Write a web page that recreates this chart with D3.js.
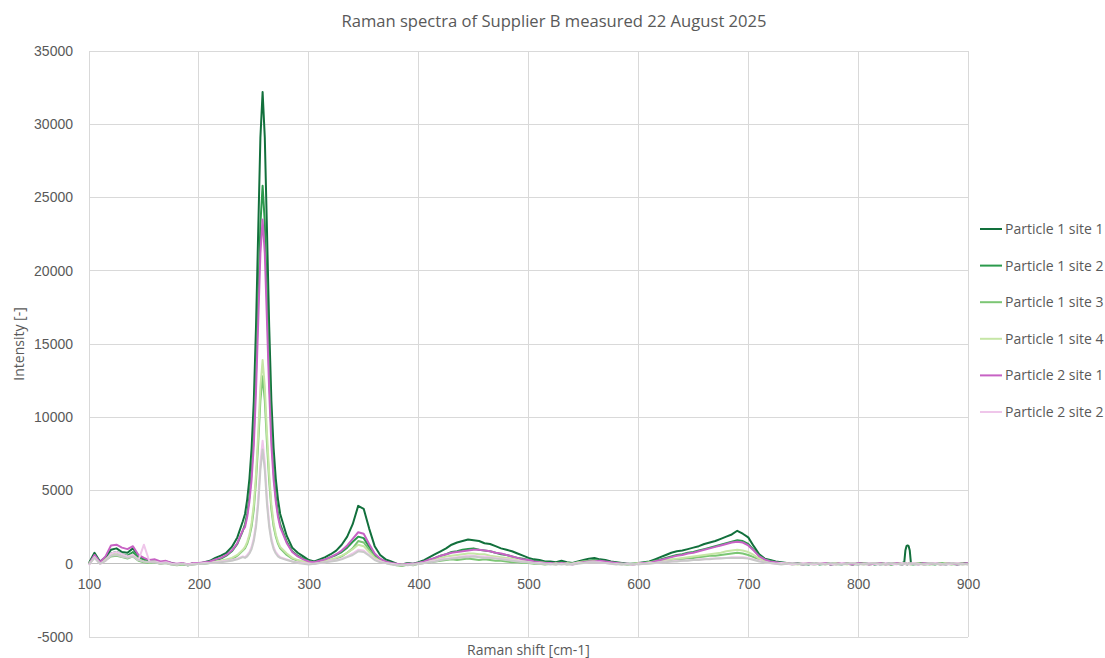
<!DOCTYPE html>
<html>
<head>
<meta charset="utf-8">
<script src="https://cdn.jsdelivr.net/npm/d3@7"></script>
<style>
  html, body { margin: 0; padding: 0; background: #ffffff; }
  svg { display: block; font-family: "Open Sans", "Noto Sans", sans-serif; }
</style>
</head>
<body>
<svg id="chart" width="1105" height="658"></svg>
<script>
// Raman shift sample positions [cm-1]
const shift = [
  100,105,110,115,120,125,130,135,140,145,150,155,160,165,170,175,180,185,190,195,200,205,210,215,220,225,230,235,240,
  242,244,246,248,250,252,254,256,258,260,262,264,266,268,270,272,274,
  280,285,290,295,300,305,310,315,320,325,330,335,340,345,350,355,360,365,370,375,380,385,390,395,400,
  405,410,415,420,425,430,435,440,445,450,455,460,465,470,475,480,485,490,495,500,505,510,515,520,525,530,535,540,545,550,555,560,565,570,575,580,585,590,595,600,
  605,610,615,620,625,630,635,640,645,650,655,660,665,670,675,680,685,690,695,700,705,710,715,720,725,730,735,740,745,750,755,760,765,770,775,780,785,790,795,800,805,810,815,820,825,830,835,840,
  842,843,844,845,846,847,848,
  850,855,860,865,870,875,880,885,890,895,900
];

const p1s1 = [
  50,750,150,450,950,1050,800,750,1050,550,350,200,250,100,150,50,-50,0,-100,50,0,100,200,400,550,750,1150,1800,2900,
  3400,4400,5800,7900,11100,16200,22700,29100,32200,29100,22700,16200,11100,7900,5800,4400,3400,
  1900,1100,750,500,250,150,300,450,650,900,1300,1850,2700,3950,3750,2400,1200,600,300,150,0,-50,50,0,100,
  250,450,650,850,1050,1300,1450,1550,1650,1600,1550,1400,1350,1200,1050,950,850,700,550,400,300,250,150,150,100,200,100,50,150,250,350,400,300,250,150,100,50,0,0,50,
  100,150,300,450,600,750,850,900,1000,1100,1200,1350,1450,1550,1700,1850,2000,2250,2050,1800,1200,650,350,250,150,100,50,0,50,0,-50,50,0,50,-50,0,50,0,-50,50,0,50,-50,0,50,-50,0,50,
  100,900,1200,1250,1200,900,100,
  0,50,-50,0,50,0,-50,50,0,50,0
];

const p1s2 = [
  0,600,100,300,700,800,650,550,800,400,250,150,200,50,100,0,-50,0,-50,0,50,50,150,250,350,550,850,1350,2250,
  2700,3450,4600,6300,8900,13000,18100,23200,25800,23300,18100,13000,8900,6300,4600,3450,2700,
  1500,850,550,350,200,100,200,300,450,600,800,1100,1500,1850,1750,1150,600,300,150,50,-50,-100,0,-50,50,
  150,250,400,550,650,800,850,950,1000,1050,950,900,850,750,650,600,500,400,350,250,200,150,100,50,50,100,0,0,50,150,200,250,200,150,100,50,0,-50,0,0,
  50,100,200,300,400,500,600,650,750,800,900,1000,1100,1200,1300,1400,1500,1600,1550,1350,950,550,300,200,100,50,0,50,0,-50,0,50,-50,0,50,0,-50,50,0,-50,50,0,50,-50,0,50,0,-50,
  0,50,0,-50,0,50,0,
  -50,0,50,0,-50,50,0,0,-50,0,50
];

const p1s3 = [
  0,500,50,250,500,550,450,350,500,200,100,50,100,0,50,-50,-100,-50,-100,-50,0,0,50,100,150,250,300,550,900,
  1050,1370,1860,2560,3710,5630,8190,11140,12800,11140,8190,5630,3710,2560,1860,1370,1050,
  600,350,200,100,50,0,100,150,250,350,500,750,1050,1550,1450,950,450,200,50,0,-100,-150,-50,-100,0,
  50,100,150,200,250,300,250,300,350,300,250,300,250,200,200,150,100,100,50,50,0,0,-50,0,-50,50,-50,0,50,100,150,150,100,100,50,0,-50,0,-50,0,
  0,50,100,150,200,250,300,300,350,400,450,500,550,550,600,650,700,750,700,600,450,250,150,100,50,0,50,-50,0,50,0,-50,0,50,0,-50,0,50,-50,0,50,-50,0,50,0,-50,50,0,
  50,0,-50,0,50,0,-50,
  0,50,0,-50,0,50,0,-50,0,50,-50
];

const p1s4 = [
  0,450,50,300,600,650,500,450,600,300,150,100,150,50,50,0,-50,0,-50,0,50,50,100,150,200,300,400,600,950,
  1150,1500,2000,2800,4050,6100,8900,12100,13900,12100,8900,6100,4050,2800,2000,1500,1150,
  700,400,250,150,100,50,100,200,300,400,550,750,1000,1300,1200,800,400,200,100,0,-50,-50,0,-50,50,
  100,200,300,400,500,550,600,650,700,700,650,650,550,500,450,400,350,250,200,150,100,100,50,0,50,0,50,0,100,150,150,200,150,100,50,50,0,-50,0,50,
  50,100,150,200,250,300,350,400,450,500,550,600,650,700,750,850,900,950,900,800,600,350,200,100,50,0,50,0,-50,0,50,0,50,-50,0,50,0,-50,50,0,-50,0,50,0,-50,0,50,0,
  0,50,0,50,0,-50,0,
  50,0,-50,50,0,-50,50,0,50,-50,0
];

const p2s1 = [
  -50,600,100,500,1250,1300,1100,1000,1200,600,400,250,300,150,200,50,0,50,-50,50,50,100,150,300,400,600,900,1400,2300,
  2500,3200,4250,5750,8100,11800,16500,21200,23500,21200,16500,11800,8100,5750,4250,3200,2500,
  1400,800,500,300,150,100,200,300,450,650,900,1250,1700,2150,2050,1350,700,350,150,50,0,-50,0,0,50,
  150,300,400,550,650,750,800,850,900,950,950,900,850,750,700,600,500,400,300,250,150,100,50,50,0,50,0,-50,50,100,150,150,200,150,100,50,0,0,-50,0,
  50,50,150,250,350,450,550,600,700,750,850,950,1050,1150,1250,1350,1450,1500,1450,1250,900,500,300,150,100,50,0,50,0,-50,50,0,0,50,-50,0,50,0,-50,50,0,-50,0,50,-50,0,50,-50,
  0,50,0,-50,0,50,0,
  0,-50,50,0,50,-50,0,50,-50,0,50
];

const p2s2 = [
  -100,450,0,200,700,800,650,500,600,250,1300,150,150,50,100,0,-50,0,-50,0,0,50,50,100,150,200,250,350,500,
  450,600,800,1150,1750,2750,4400,6900,8400,6900,4400,2750,1750,1150,800,600,450,
  300,150,100,50,0,0,50,100,200,250,350,500,700,950,900,600,300,150,50,0,-50,-100,-50,-50,0,
  50,150,200,300,350,400,450,500,550,550,500,500,450,400,350,300,250,200,150,100,50,50,0,0,-50,0,-50,0,50,50,100,100,100,50,0,0,-50,0,-50,0,
  0,50,50,100,150,150,200,200,250,250,300,300,350,350,400,400,450,450,450,400,300,200,100,50,0,50,0,-50,0,50,0,-50,50,0,0,-50,50,0,50,-50,0,50,0,-50,50,0,-50,50,
  0,-50,0,50,0,-50,0,
  50,0,-50,0,50,0,-50,0,50,0,-50
];

const p2s3 = [
  -50,400,0,200,550,600,500,400,500,250,150,100,100,0,50,-50,-50,0,-100,-50,0,0,50,50,100,150,200,300,450,
  400,500,700,1000,1550,2500,4050,6400,7800,6400,4050,2500,1550,1000,700,500,400,
  250,150,50,0,-50,0,50,100,150,200,300,450,600,850,800,550,250,100,50,-50,-100,-50,-100,-50,0,
  50,100,150,250,300,350,400,450,450,500,450,400,400,350,300,250,200,150,100,100,50,0,0,-50,0,-50,0,-50,0,50,100,100,50,50,0,-50,0,-50,0,-50,
  0,0,50,100,100,150,150,200,200,250,250,300,300,350,350,400,400,400,400,350,250,150,100,50,0,-50,0,50,0,-50,0,50,0,-50,50,0,-50,0,50,0,-50,0,50,0,-50,50,0,-50,
  0,50,0,-50,0,50,0,
  0,-50,0,50,0,-50,0,50,0,-50,0
];

const seriesNames = ["Particle 1 site 1", "Particle 1 site 2", "Particle 1 site 3", "Particle 1 site 4", "Particle 2 site 1", "Particle 2 site 2", "Particle 2 site 3"];
const seriesValues = [p1s1, p1s2, p1s3, p1s4, p2s1, p2s2, p2s3];
const seriesColors = ["#12703c", "#2b9a4c", "#7cc674", "#c6e6a6", "#c762c4", "#efc6ea", "#c9c9c9"];
const legendCount = 6;

const xTicks = [100, 200, 300, 400, 500, 600, 700, 800, 900];
const yTicks = [-5000, 0, 5000, 10000, 15000, 20000, 25000, 30000, 35000];

const titleText = "Raman spectra of Supplier B measured 22 August 2025";
const xTitle = "Raman shift [cm-1]";
const yTitle = "Intensity [-]";

const svg = d3.select("#chart");
const plot = { left: 89, right: 968, top: 51, bottom: 637 };
const textColor = "#595959";
const gridColor = "#d9d9d9";

// plain integer labels with an ASCII hyphen for negatives
const plainInt = d => String(Math.round(d));

const x = d3.scaleLinear().domain([100, 900]).range([plot.left, plot.right]);
const y = d3.scaleLinear().domain([-5000, 35000]).range([plot.bottom, plot.top]);

// gridlines
const grid = svg.append("g");
grid.selectAll("line.h").data(yTicks).join("line")
  .attr("x1", plot.left).attr("x2", plot.right)
  .attr("y1", d => y(d)).attr("y2", d => y(d))
  .attr("stroke", gridColor).attr("stroke-width", 1).attr("shape-rendering", "crispEdges");
grid.selectAll("line.v").data(xTicks).join("line")
  .attr("y1", plot.top).attr("y2", plot.bottom)
  .attr("x1", d => x(d)).attr("x2", d => x(d))
  .attr("stroke", gridColor).attr("stroke-width", 1).attr("shape-rendering", "crispEdges");

// horizontal axis line at zero
svg.append("line")
  .attr("x1", plot.left).attr("x2", plot.right)
  .attr("y1", y(0)).attr("y2", y(0))
  .attr("stroke", "#bfbfbf").attr("stroke-width", 1).attr("shape-rendering", "crispEdges");

// y axis labels
const yAxis = d3.axisLeft(y).tickValues(yTicks).tickSize(0).tickPadding(16).tickFormat(plainInt);
const gy = svg.append("g").attr("transform", `translate(${plot.left},0)`).call(yAxis);
gy.select(".domain").remove();
gy.selectAll("text").attr("fill", textColor).style("font-size", "14px");

// x axis labels, crossing at zero
const xAxis = d3.axisBottom(x).tickValues(xTicks).tickSize(0).tickPadding(15).tickFormat(plainInt);
const gx = svg.append("g").attr("transform", `translate(0,${y(0)})`).call(xAxis);
gx.select(".domain").remove();
gx.selectAll("text").attr("fill", textColor).style("font-size", "14px");

// spectra
const line = d3.line()
  .x((d, i) => x(shift[i]))
  .y(d => y(d));
const lines = svg.append("g");
seriesValues.forEach((vals, k) => {
  lines.append("path")
    .datum(vals)
    .attr("fill", "none")
    .attr("stroke", seriesColors[k])
    .attr("stroke-width", 2)
    .attr("stroke-linejoin", "round")
    .attr("d", line);
});

// title and axis titles
svg.append("text")
  .attr("x", 554).attr("y", 27)
  .attr("text-anchor", "middle")
  .attr("fill", textColor).style("font-size", "16.6px")
  .text(titleText);
svg.append("text")
  .attr("x", (plot.left + plot.right) / 2).attr("y", 655)
  .attr("text-anchor", "middle")
  .attr("fill", textColor).style("font-size", "14px")
  .text(xTitle);
svg.append("text")
  .attr("transform", `translate(24,${(plot.top + plot.bottom) / 2}) rotate(-90)`)
  .attr("text-anchor", "middle")
  .attr("fill", textColor).style("font-size", "14px")
  .text(yTitle);

// legend
const legend = svg.append("g");
const legendY = d3.scaleLinear().domain([0, legendCount - 1]).range([229, 412]);
seriesNames.slice(0, legendCount).forEach((name, k) => {
  const ly = legendY(k);
  legend.append("line")
    .attr("x1", 980).attr("x2", 1002)
    .attr("y1", ly).attr("y2", ly)
    .attr("stroke", seriesColors[k]).attr("stroke-width", 2);
  legend.append("text")
    .attr("x", 1005).attr("y", ly + 5)
    .attr("fill", textColor).style("font-size", "14px")
    .text(name);
});
</script>
</body>
</html>
